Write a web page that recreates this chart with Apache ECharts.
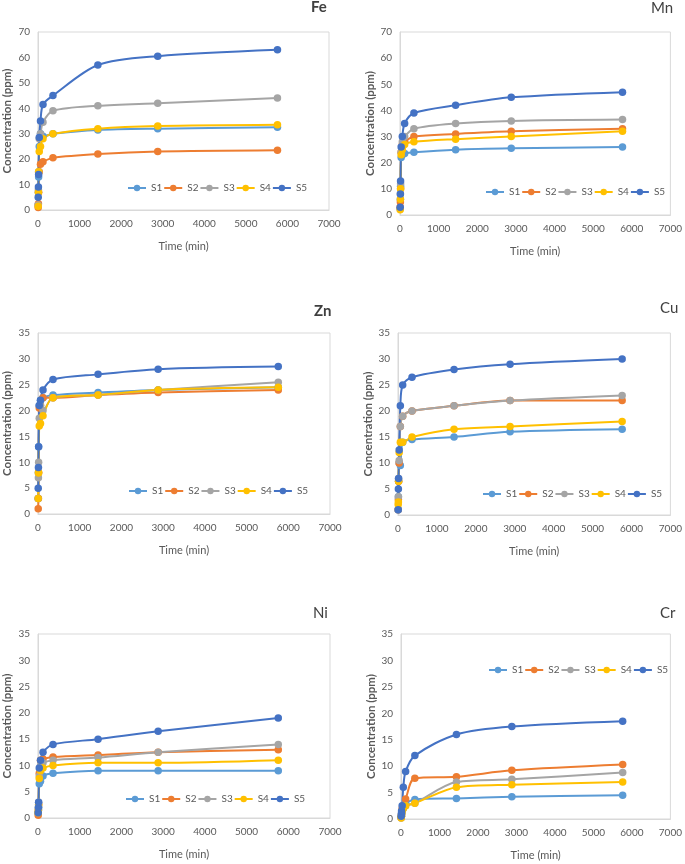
<!DOCTYPE html>
<html><head><meta charset="utf-8">
<script src="https://cdn.jsdelivr.net/npm/echarts@6/dist/echarts.min.js"></script>
<style>html,body{margin:0;padding:0;background:#fff}#c{width:685px;height:864px}</style>
</head><body><div id="c"></div>
<script>
const times = [5, 10, 15, 30, 60, 120, 360, 1440, 2880, 5760];
const seriesNames = ['S1','S2','S3','S4','S5'];
const colors = ['#5B9BD5','#ED7D31','#A5A5A5','#FFC000','#4472C4'];

const Fe = {
  S1: [2, 7, 13, 25, 30, 29, 30, 31.5, 32, 32.5],
  S2: [1, 2.5, 7, 15, 18, 19, 20.5, 22, 23, 23.5],
  S3: [2, 8, 15, 28, 30, 34.5, 39, 41, 42, 44],
  S4: [1.5, 7, 15, 23, 25, 28, 30, 32, 33, 33.5],
  S5: [5, 9, 14, 28.5, 35, 41.5, 45, 57, 60.5, 63]
};
const Mn = {
  S1: [2.5, 6, 11, 22, 23, 23.5, 24, 25, 25.5, 26],
  S2: [3, 5, 10, 24, 27, 28, 30, 31, 32, 33],
  S3: [2.5, 8, 12, 24, 28, 30, 33, 35, 36, 36.5],
  S4: [2, 6, 10, 23, 25, 27, 28, 29, 30, 32],
  S5: [3, 8, 13, 26, 30, 35, 39, 42, 45, 47]
};
const Zn = {
  S1: [3, 8, 13, 21, 22, 22.5, 23, 23.5, 24, 24.5],
  S2: [1, 3, 8, 20.5, 21, 22.5, 22.5, 23, 23.5, 24],
  S3: [3, 7, 10, 18.5, 21, 20, 22.5, 23, 24, 25.5],
  S4: [3, 8, 8, 17, 17.5, 19, 22.5, 23, 24, 24.5],
  S5: [5, 9, 13, 21, 22, 24, 26, 27, 28, 28.5]
};
const Cu = {
  S1: [1, 3.5, 6.5, 10, 9.5, 14, 14.5, 15, 16, 16.5],
  S2: [1, 3, 6.5, 10, 17, 19, 20, 21, 22, 22],
  S3: [1, 3.5, 7, 10.5, 17, 19, 20, 21, 22, 23],
  S4: [2, 2.5, 6.5, 12, 14, 14, 15, 16.5, 17, 18],
  S5: [1, 5, 7, 12.5, 21, 25, 26.5, 28, 29, 30]
};
const Ni = {
  S1: [1, 1.5, 2, 6.5, 7, 8, 8.5, 9, 9, 9],
  S2: [0.5, 1.5, 2.5, 8.5, 11, 11.2, 11.6, 12, 12.5, 13],
  S3: [1, 2, 3, 8, 10, 10.5, 11, 11.5, 12.5, 14],
  S4: [1, 1.5, 2.5, 7.5, 9, 9.5, 10, 10.5, 10.5, 11],
  S5: [1, 2, 3, 9.5, 11, 12.5, 14, 15, 16.5, 19]
};
const Cr = {
  S1: [0.3, 0.5, 1, 1.5, 2.5, 3, 3.7, 3.9, 4.2, 4.5],
  S2: [0.3, 0.5, 1, 2, 2.5, 3.8, 7.7, 8, 9.2, 10.3],
  S3: [0.2, 0.5, 1, 1.5, 2, 2.5, 3, 7, 7.5, 8.8],
  S4: [0.2, 0.5, 0.8, 1.5, 2, 2.5, 3, 6, 6.5, 7],
  S5: [0.5, 1, 1.5, 2.5, 6, 9, 12, 16, 17.5, 18.5]
};

const panels = [
  {name:'Fe', data:Fe, ymax:70, yint:10, grid:{left:36,top:32,width:293,height:178}, title:{left:311,top:0,w:'bold'}, legend:{left:127,top:183}, yGap:25},
  {name:'Mn', data:Mn, ymax:70, yint:10, grid:{left:400,top:32,width:274,height:183}, title:{left:651,top:1,w:'normal'}, legend:{left:485,top:187}, yGap:21},
  {name:'Zn', data:Zn, ymax:35, yint:5, grid:{left:36,top:333,width:294,height:181}, title:{left:314,top:304,w:'bold'}, legend:{left:128,top:486}, yGap:25},
  {name:'Cu', data:Cu, ymax:35, yint:5, grid:{left:398,top:333,width:276,height:182}, title:{left:660,top:301,w:'normal'}, legend:{left:482,top:489}, yGap:20},
  {name:'Ni', data:Ni, ymax:35, yint:5, grid:{left:38,top:634,width:292,height:184}, title:{left:313,top:606,w:'normal'}, legend:{left:125,top:794}, yGap:25},
  {name:'Cr', data:Cr, ymax:35, yint:5, grid:{left:401,top:634,width:273,height:185}, title:{left:660,top:606,w:'normal'}, legend:{left:488,top:665}, yGap:23}
];

const FONT = 'Lato';
const grids=[], xAxes=[], yAxes=[], series=[], titles=[], legends=[];
panels.forEach((p,i)=>{
  grids.push(Object.assign({show:true, borderColor:'#d9d9d9', borderWidth:1, backgroundColor:'transparent'}, p.grid));
  xAxes.push({type:'value', gridIndex:i, min:0, max:7000, interval:1000,
    name:'Time (min)', nameLocation:'middle', nameGap:31,
    nameTextStyle:{fontFamily:FONT, fontSize:11, color:'#595959'},
    axisLine:{show:true, lineStyle:{color:'#d9d9d9'}}, axisTick:{show:false}, splitLine:{show:false},
    axisLabel:{fontFamily:FONT, fontSize:10, color:'#595959', margin:9, formatter:v=>String(v)}});
  yAxes.push({type:'value', gridIndex:i, min:0, max:p.ymax, interval:p.yint,
    name:'Concentration (ppm)', nameLocation:'middle', nameGap:p.yGap, nameRotate:90,
    nameTextStyle:{fontFamily:FONT, fontSize:11.5, fontWeight:'bold', color:'#595959'},
    axisLine:{show:true, lineStyle:{color:'#d9d9d9'}}, axisTick:{show:false}, splitLine:{show:false},
    axisLabel:{fontFamily:FONT, fontSize:10, color:'#595959', margin:8, formatter:v=>String(v)}});
  titles.push({text:p.name, left:p.title.left, top:p.title.top, padding:0,
    textStyle:{fontFamily:FONT, fontSize:15, fontWeight:p.title.w, color:'#404040'}});
  legends.push({data:seriesNames, left:p.legend.left, top:p.legend.top, width:260, padding:0,
    itemWidth:18, itemHeight:8, itemGap:1, selectedMode:false,
    textStyle:{fontFamily:FONT, fontSize:10, color:'#595959'}});
  seriesNames.forEach((s,k)=>{
    series.push({type:'line', name:s, xAxisIndex:i, yAxisIndex:i, smooth:0.3,
      data: times.map((t,j)=>[t, p.data[s][j]]),
      symbol:'circle', symbolSize:7.5, color:colors[k],
      lineStyle:{width:2, color:colors[k]}, itemStyle:{color:colors[k]}, animation:false});
  });
});

const chart = echarts.init(document.getElementById('c'), null, {renderer:'canvas'});
chart.setOption({backgroundColor:'#fff', animation:false, title:titles, legend:legends,
  grid:grids, xAxis:xAxes, yAxis:yAxes, series:series});
</script></body></html>
